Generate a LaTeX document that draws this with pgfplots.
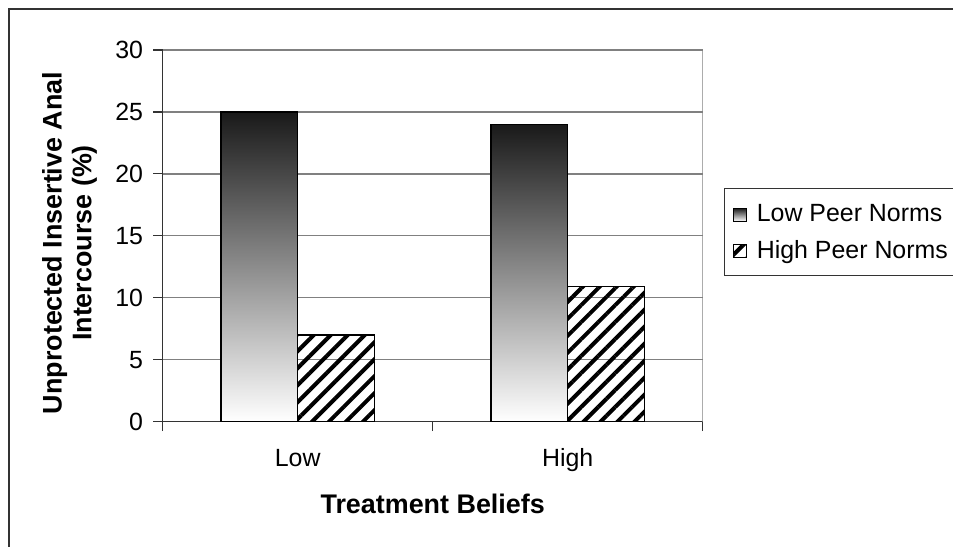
\documentclass[border=0pt]{standalone}
\usepackage{fontspec}
\setmainfont{Liberation Sans}
\usepackage{pgfplots}
\pgfplotsset{compat=1.18}
\usetikzlibrary{patterns.meta}
\definecolor{gridgray}{HTML}{808080}
\definecolor{axisdark}{HTML}{333333}
\begin{document}
\begin{tikzpicture}
\useasboundingbox (-162.7bp,-125.3bp) rectangle (790.3bp,421.7bp);
\draw[axisdark,line width=2bp] (-153.7bp,-140bp) -- (-153.7bp,412.7bp) -- (800bp,412.7bp);
\begin{axis}[
  scale only axis, width=540bp, height=371.7bp,
  xmin=-0.5, xmax=1.5, ymin=0, ymax=30,
  ytick={0,5,...,30},
  xtick={-0.5,0.5,1.5}, xticklabels={},
  extra x ticks={0,1}, extra x tick labels={Low,High},
  extra x tick style={major tick length=0pt, xticklabel style={anchor=base, yshift=-45bp, inner sep=0pt}},
  axis lines*=left,
  axis line style={axisdark,line width=1.5bp},
  tick align=outside, major tick length=9.5bp,
  tick style={axisdark,line width=1.2bp},
  ymajorgrids, grid style={gridgray,line width=1.3bp},
  tick label style={font=\fontsize{25}{30}\selectfont},
  yticklabel style={anchor=east, inner sep=0pt, xshift=-10bp},
  /pgf/number format/assume math mode=true,
  ylabel={Unprotected Insertive Anal\\Intercourse (\%)},
  every axis y label/.style={at={(axis description cs:-0.1726,0.4808)}, rotate=90, anchor=center, align=center, font=\bfseries\fontsize{27}{30}\selectfont},
  xlabel={Treatment Beliefs},
  every axis x label/.style={at={(axis description cs:0.5,-0.2198)}, anchor=center, font=\bfseries\fontsize{27}{30}\selectfont},
  ybar=0pt, bar width=76.8bp,
  legend cell align=left,
  legend style={at={(axis description cs:1.0394,0.6287)}, anchor=north west, draw=axisdark, line width=0.8bp, font=\fontsize{25}{30}\selectfont, inner xsep=9bp, inner ysep=14bp, row sep=13bp},
  legend image code/.code={\draw[#1,line width=1bp] (0bp,-7.5bp) rectangle (13bp,5.5bp); \path[draw=none,fill=none,shade=none] (0bp,0bp) rectangle (21bp,0.1bp);},
]
\addplot[draw=black, line width=1.5bp, top color=black!90, bottom color=white, bar shift=-38.4bp] coordinates {(0,25)};
\addlegendentry{Low Peer Norms}
\addplot[forget plot, draw=black, line width=1.5bp, top color=black!90, bottom color=white, bar shift=-38.4bp] coordinates {(1,24)};
\addplot[draw=black, line width=1.5bp, pattern={Lines[angle=45,distance=12bp,line width=4bp]}, pattern color=black, bar shift=38.4bp] coordinates {(0,7) (1,10.9)};
\addlegendentry{High Peer Norms}
\draw[gridgray,line width=1.3bp] (rel axis cs:1,0) -- (rel axis cs:1,1);
\end{axis}
\end{tikzpicture}
\end{document}
